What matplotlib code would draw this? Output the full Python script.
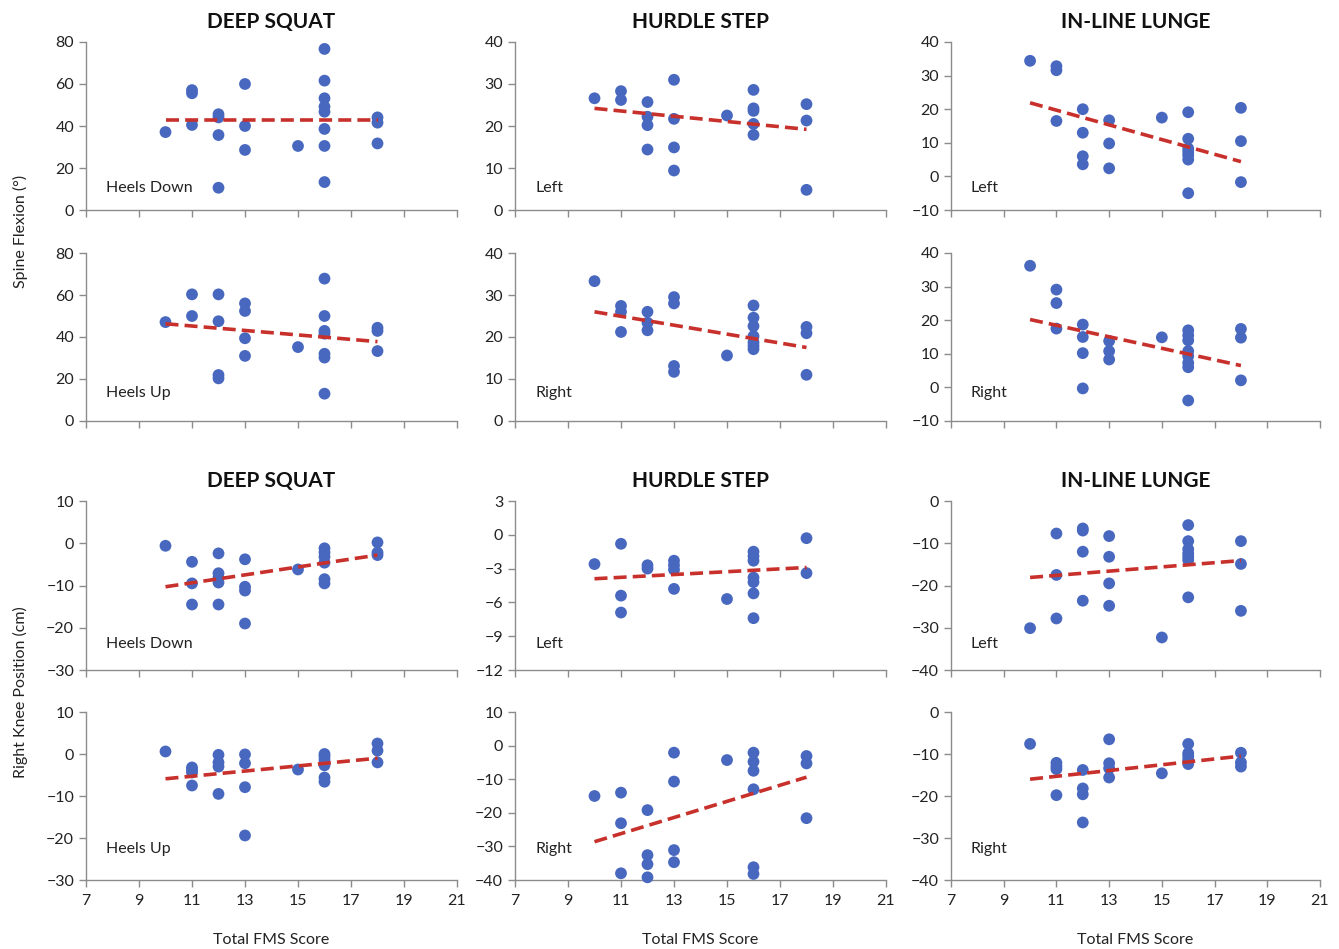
import numpy as np
import matplotlib
matplotlib.use("Agg")
import matplotlib.pyplot as plt

plt.rcParams['font.family'] = ['Lato', 'DejaVu Sans']

# FMS score groups used in every panel
xs_all = [10, 11, 12, 13, 15, 16, 18]

titles = ["DEEP SQUAT", "HURDLE STEP", "IN-LINE LUNGE"]
labels = [["Heels Down", "Left", "Left"],
          ["Heels Up", "Right", "Right"],
          ["Heels Down", "Left", "Left"],
          ["Heels Up", "Right", "Right"]]

# points per panel: {fms score: [values]}
spine_ds_down = {10: [37.1], 11: [57.1, 55.6, 40.5], 12: [45.6, 44.1, 35.7, 10.6],
                 13: [60.0, 40.0, 28.6], 15: [30.5],
                 16: [76.7, 61.6, 53.2, 49.2, 46.8, 38.6, 30.5, 13.3], 18: [44.1, 41.6, 31.7]}
spine_ds_up = {10: [47.1], 11: [60.3, 50.0], 12: [60.3, 47.5, 21.9, 20.3],
               13: [56.0, 52.4, 39.4, 31.0], 15: [35.2],
               16: [67.8, 50.0, 42.9, 41.6, 32.0, 30.2, 13.0], 18: [44.4, 42.9, 33.3]}
spine_hs_left = {10: [26.6], 11: [28.3, 26.2], 12: [25.7, 22.2, 20.2, 14.4],
                 13: [31.0, 21.7, 14.9, 9.4], 15: [22.5],
                 16: [28.6, 24.2, 23.6, 20.5, 17.9], 18: [25.2, 21.3, 4.8]}
spine_hs_right = {10: [33.3], 11: [27.4, 26.0, 21.2], 12: [26.0, 23.4, 21.6],
                  13: [29.5, 28.0, 13.1, 11.7], 15: [15.6],
                  16: [27.5, 24.6, 22.6, 20.2, 18.7, 17.9, 17.1], 18: [22.4, 20.9, 11.0]}
spine_ll_left = {10: [34.4], 11: [32.8, 31.6, 16.5], 12: [20.0, 13.0, 6.0, 3.6],
                 13: [16.7, 9.8, 2.4], 15: [17.5],
                 16: [19.1, 11.2, 8.3, 7.3, 6.3, 5.0, -5.0], 18: [20.4, 10.5, -1.7]}
spine_ll_right = {10: [36.2], 11: [29.1, 25.1, 17.5], 12: [18.7, 15.0, 10.2, -0.3],
                  13: [13.8, 10.8, 8.3], 15: [14.9],
                  16: [17.0, 15.5, 14.0, 10.8, 9.3, 7.3, 6.0, -3.9], 18: [17.4, 14.8, 2.1]}
knee_ds_down = {10: [-0.6], 11: [-4.4, -9.5, -14.5], 12: [-2.4, -7.1, -8.1, -9.3, -14.5],
                13: [-3.8, -10.3, -11.2, -19.0], 15: [-6.2],
                16: [-1.2, -2.2, -3.2, -4.6, -8.5, -9.5], 18: [0.2, -2.2, -2.8]}
knee_ds_up = {10: [0.6], 11: [-3.2, -3.8, -4.4, -7.5], 12: [-0.2, -2.0, -3.0, -9.5],
              13: [-0.1, -2.2, -7.9, -19.4], 15: [-3.7],
              16: [0.0, -0.6, -1.4, -2.7, -5.6, -6.6], 18: [2.5, 0.8, -2.0]}
knee_hs_left = {10: [-2.6], 11: [-0.8, -5.4, -6.9], 12: [-2.7, -3.0],
                13: [-2.3, -2.7, -3.1, -4.8], 15: [-5.7],
                16: [-1.5, -1.9, -2.3, -3.8, -4.2, -5.2, -7.4], 18: [-0.3, -3.4]}
knee_hs_right = {10: [-15.0], 11: [-14.0, -23.1, -38.0], 12: [-19.2, -32.6, -35.3, -39.2],
                 13: [-2.1, -10.7, -31.1, -34.7], 15: [-4.3],
                 16: [-2.1, -4.8, -7.5, -13.0, -36.2, -38.2], 18: [-3.1, -5.3, -21.6]}
knee_ll_left = {10: [-30.1], 11: [-7.7, -17.5, -27.8], 12: [-6.5, -7.0, -12.0, -23.6],
                13: [-8.3, -13.2, -19.5, -24.8], 15: [-32.3],
                16: [-5.7, -9.5, -11.4, -12.4, -13.2, -14.0, -22.8], 18: [-9.5, -14.9, -26.0]}
knee_ll_right = {10: [-7.6], 11: [-12.1, -12.9, -13.6, -19.8], 12: [-13.8, -18.2, -19.6, -26.3],
                 13: [-6.5, -12.2, -13.4, -15.6], 15: [-14.6],
                 16: [-7.6, -9.8, -10.5, -11.4, -12.4], 18: [-9.7, -12.0, -13.0]}

panels = [[spine_ds_down, spine_hs_left, spine_ll_left],
          [spine_ds_up, spine_hs_right, spine_ll_right],
          [knee_ds_down, knee_hs_left, knee_ll_left],
          [knee_ds_up, knee_hs_right, knee_ll_right]]

# linear trend line values at FMS 10 and 18
trend = [[(42.9, 42.9), (24.2, 19.2), (21.9, 4.4)],
         [(46.3, 37.8), (26.0, 17.5), (20.2, 6.5)],
         [(-10.3, -2.8), (-3.9, -2.9), (-18.1, -14.1)],
         [(-5.9, -1.0), (-28.6, -9.4), (-16.0, -10.5)]]

yticks = [[np.arange(0, 81, 20), np.arange(0, 41, 10), np.arange(-10, 41, 10)],
          [np.arange(0, 81, 20), np.arange(0, 41, 10), np.arange(-10, 41, 10)],
          [np.arange(-30, 11, 10), np.arange(-12, 4, 3), np.arange(-40, 1, 10)],
          [np.arange(-30, 11, 10), np.arange(-40, 11, 10), np.arange(-40, 1, 10)]]

W, H = 1339, 949
col_px = [(86, 457), (515, 886), (951, 1320)]
row_px = [(42, 210), (253, 421), (501, 670), (712, 880)]
label_y = [0.13, 0.167, 0.154, 0.185]

dot_color = '#4868C0'
line_color = '#C8302C'
spine_color = '#8C8C8C'

fig = plt.figure(figsize=(W / 100, H / 100), dpi=100)

for r in range(4):
    for c in range(3):
        x0, x1 = col_px[c]
        y0, y1 = row_px[r]
        ax = fig.add_axes([x0 / W, 1 - y1 / H, (x1 - x0) / W, (y1 - y0) / H])
        d = panels[r][c]
        px, py = [], []
        for k, vals in d.items():
            px += [k] * len(vals)
            py += vals
        ax.scatter(px, py, s=72, color=dot_color, edgecolors='none', zorder=3, clip_on=False)
        t0, t1 = trend[r][c]
        ax.plot([xs_all[0], xs_all[-1]], [t0, t1], color=line_color, lw=2.6,
                dashes=(3.6, 1.7), zorder=4)
        yt = yticks[r][c]
        ax.set_ylim(yt[0], yt[-1])
        ax.set_yticks(yt)
        ax.set_xlim(7, 21)
        ax.set_xticks(np.arange(7, 22, 2))
        ax.spines['top'].set_visible(False)
        ax.spines['right'].set_visible(False)
        for s in ('left', 'bottom'):
            ax.spines[s].set_color(spine_color)
            ax.spines[s].set_linewidth(1.0)
        ax.tick_params(axis='both', colors=spine_color, labelcolor='#222222',
                       labelsize=11.5, length=5, width=1.0, direction='out')
        ax.tick_params(axis='x', pad=5)
        if r < 3:
            ax.tick_params(axis='x', labelbottom=False)
        else:
            ax.set_xlabel('Total FMS Score', fontsize=11.5, color='#222222', labelpad=18)
        if r in (0, 2):
            ax.set_title(titles[c], fontsize=15, fontweight='bold', color='#111111', pad=10)
        ax.text(0.054, label_y[r], labels[r][c], transform=ax.transAxes,
                fontsize=11.5, color='#222222', va='center', ha='left')

fig.text(20 / W, 1 - 231 / H, 'Spine Flexion (°)', rotation=90, ha='center', va='center',
         fontsize=11.5, color='#222222')
fig.text(20 / W, 1 - 692 / H, 'Right Knee Position (cm)', rotation=90, ha='center', va='center',
         fontsize=11.5, color='#222222')

fig.savefig('out.png', dpi=100, facecolor='white')
